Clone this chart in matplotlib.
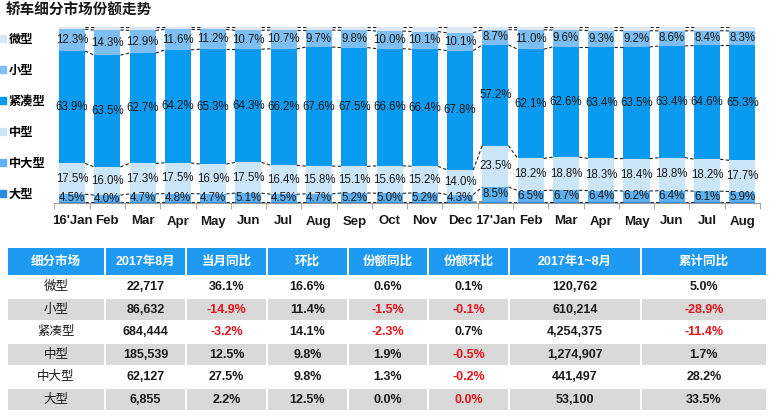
import numpy as np
import matplotlib.pyplot as plt
from matplotlib.patches import Rectangle, Patch

plt.rcParams['font.family'] = ['Liberation Sans', 'Noto Sans CJK SC']

months = ["16'Jan", 'Feb', 'Mar', 'Apr', 'May', 'Jun', 'Jul', 'Aug', 'Sep', 'Oct', 'Nov', 'Dec',
          "17'Jan", 'Feb', 'Mar', 'Apr', 'May', 'Jun', 'Jul', 'Aug']

# 份额 (%), 自下而上
da = [0.5, 0.5, 0.5, 0.5, 0.5, 0.5, 0.5, 0.5, 0.5, 0.5, 0.5, 0.5,
      0.6, 0.6, 0.6, 0.6, 0.6, 0.6, 0.6, 0.6]
zhongda = [4.5, 4.0, 4.7, 4.8, 4.7, 5.1, 4.5, 4.7, 5.2, 5.0, 5.2, 4.3,
           8.5, 6.5, 6.7, 6.4, 6.2, 6.4, 6.1, 5.9]
zhong = [17.5, 16.0, 17.3, 17.5, 16.9, 17.5, 16.4, 15.8, 15.1, 15.6, 15.2, 14.0,
         23.5, 18.2, 18.8, 18.3, 18.4, 18.8, 18.2, 17.7]
jincou = [63.9, 63.5, 62.7, 64.2, 65.3, 64.3, 66.2, 67.6, 67.5, 66.6, 66.4, 67.8,
          57.2, 62.1, 62.6, 63.4, 63.5, 63.4, 64.6, 65.3]
xiao = [12.3, 14.3, 12.9, 11.6, 11.2, 10.7, 10.7, 9.7, 9.8, 10.0, 10.1, 10.1,
        8.7, 11.0, 9.6, 9.3, 9.2, 8.6, 8.4, 8.3]
wei = [1.3, 1.7, 1.9, 1.4, 1.4, 1.9, 1.7, 1.7, 1.9, 2.3, 2.6, 3.3,
       1.5, 1.6, 1.7, 2.0, 2.1, 2.2, 2.1, 2.2]

series_names = ['大型', '中大型', '中型', '紧凑型', '小型', '微型']
series_vals = [da, zhongda, zhong, jincou, xiao, wei]
series_colors = ['#2a8ee0', '#5eb0f0', '#cbe5f9', '#0a9af0', '#7dbff2', '#dbe7f2']
labeled = [False, True, True, True, True, False]

# 表格
header = ['细分市场', '2017年8月', '当月同比', '环比', '份额同比', '份额环比', '2017年1~8月', '累计同比']
segments = ['微型', '小型', '紧凑型', '中型', '中大型', '大型']
aug_sales = ['22,717', '86,632', '684,444', '185,539', '62,127', '6,855']
aug_yoy = ['36.1%', '-14.9%', '-3.2%', '12.5%', '27.5%', '2.2%']
aug_mom = ['16.6%', '11.4%', '14.1%', '9.8%', '9.8%', '12.5%']
share_yoy = ['0.6%', '-1.5%', '-2.3%', '1.9%', '1.3%', '0.0%']
share_mom = ['0.1%', '-0.1%', '0.7%', '-0.5%', '-0.2%', '0.0%']
ytd_sales = ['120,762', '610,214', '4,254,375', '1,274,907', '441,497', '53,100']
ytd_yoy = ['5.0%', '-28.9%', '-11.4%', '1.7%', '28.2%', '33.5%']
extra_red = [(5, 5)]  # 大型 份额环比 标红

W, H = 772, 419
fig = plt.figure(figsize=(W / 100, H / 100), dpi=100)


def fx(px):
    return px / W


def fy(py):
    return 1 - py / H


ax = fig.add_axes([fx(54.4), fy(203), fx(760) - fx(54.4), fy(27) - fy(203)])
x = np.arange(len(months))
bw = 0.74
bottom = np.zeros(len(months))
for name, vals, col, lab in zip(series_names, series_vals, series_colors, labeled):
    vals = np.array(vals)
    ax.bar(x, vals, bw, bottom=bottom, color=col, linewidth=0)
    top = bottom + vals
    for i in range(len(months) - 1):
        ax.plot([x[i] + bw / 2, x[i + 1] - bw / 2], [top[i], top[i + 1]],
                color='#222222', lw=0.8, ls=(0, (3, 2)))
    if lab:
        for i in range(len(months)):
            ax.text(x[i], bottom[i] + vals[i] / 2, f'{vals[i]:.1f}%', ha='center', va='center',
                    fontsize=8.3, color='#1a1a1a')
    bottom = top

ax.set_xlim(-0.5, len(months) - 0.5)
ax.set_ylim(0, 100)
ax.set_yticks([])
for s in ['top', 'right', 'left']:
    ax.spines[s].set_visible(False)
ax.spines['bottom'].set_color('#999999')
ax.set_xticks(x)
ax.set_xticklabels(months, fontsize=9.5, fontweight='bold', color='#1a1a1a')
ax.tick_params(axis='x', which='major', length=0, pad=9)
ax.set_xticks(np.arange(-0.5, len(months), 1), minor=True)
ax.tick_params(axis='x', which='minor', length=4, color='#999999')

fig.text(fx(6), fy(11), '轿车细分市场份额走势', fontsize=10.5, fontweight='bold',
         ha='left', va='center', color='#1a1a1a')

handles = [Patch(color=c) for c in series_colors[::-1]]
fig.legend(handles, series_names[::-1], loc='upper left', bbox_to_anchor=(fx(0), fy(34)),
           frameon=False, prop={'weight': 'bold', 'size': 8.8},
           handlelength=0.45, handleheight=0.45, handletextpad=0.25,
           labelspacing=1.55, borderaxespad=0, borderpad=0)

# 表格绘制
tab = fig.add_axes([0, 0, 1, 1], zorder=-1)
tab.set_xlim(0, W)
tab.set_ylim(H, 0)
tab.axis('off')
col_edges = [7, 105, 186, 267, 348, 428, 509, 641, 767]
row_edges = [248, 275, 298, 321, 343, 366, 388, 411]
columns = [segments, aug_sales, aug_yoy, aug_mom, share_yoy, share_mom, ytd_sales, ytd_yoy]

for j in range(len(header)):
    x0, x1 = col_edges[j], col_edges[j + 1]
    tab.add_patch(Rectangle((x0 + 1, row_edges[0]), x1 - x0 - 2, row_edges[1] - row_edges[0],
                            color='#1f9af2', lw=0))
    tab.text((x0 + x1) / 2, (row_edges[0] + row_edges[1]) / 2, header[j], ha='center',
             va='center', fontsize=9, fontweight='bold', color='white')
    for r in range(len(segments)):
        y0, y1 = row_edges[r + 1], row_edges[r + 2]
        if r % 2 == 1:
            tab.add_patch(Rectangle((x0 + 1, y0 + 1), x1 - x0 - 2, y1 - y0 - 2,
                                    color='#d9d9d9', lw=0))
        val = columns[j][r]
        red = val.startswith('-') or (r, j) in extra_red
        tab.text((x0 + x1) / 2, (y0 + y1) / 2, val, ha='center', va='center',
                 fontsize=9, fontweight='normal' if j == 0 else 'bold',
                 color='#e8141c' if red else '#1a1a1a')

fig.savefig('out.png', dpi=100)
